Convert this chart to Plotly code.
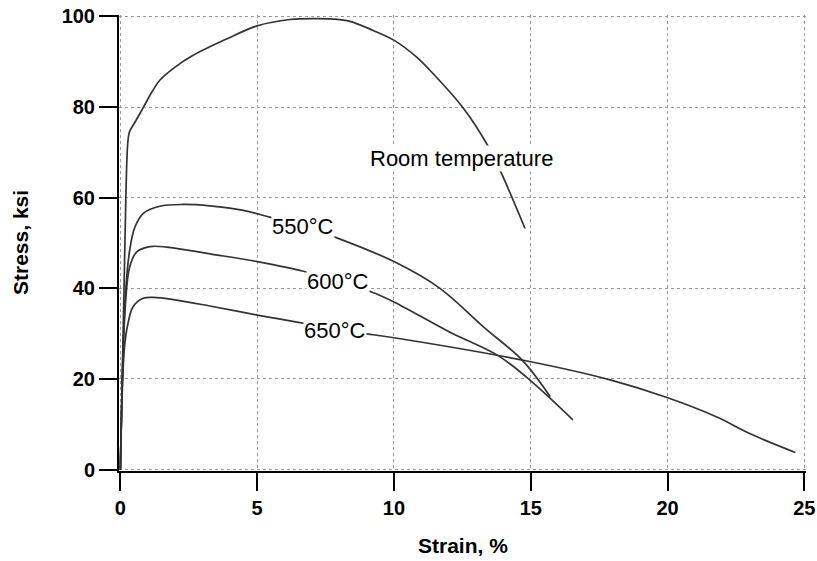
import plotly.graph_objects as go

# Room temperature
rt_x = [0, 0.2, 0.27, 0.33, 0.5, 0.83, 1.15, 1.44, 2.0, 2.66, 3.88, 5.0, 6.2, 7.2, 7.78, 8.39, 9.24, 10.01, 10.83, 11.44, 12.53, 13.39, 13.88, 14.79]
rt_y = [0, 60, 72, 74.5, 76.3, 79.8, 83.3, 85.9, 88.8, 91.4, 95.0, 97.9, 99.3, 99.5, 99.4, 98.9, 96.9, 94.7, 91.0, 87.3, 79.8, 71.9, 66.0, 53.2]

# 550 C
c550_x = [0, 0.18, 0.34, 0.53, 0.83, 1.44, 2.29, 3.27, 4.49, 5.46, 6.68, 7.84, 10.0, 11.68, 13.27, 14.71, 15.71]
c550_y = [0, 38, 48.4, 53.5, 56.5, 58.1, 58.5, 58.2, 57.2, 55.7, 53.7, 51.3, 45.9, 40.0, 31.5, 24.0, 16.1]

# 600 C
c600_x = [0, 0.18, 0.34, 0.59, 1.08, 1.69, 3.27, 5.0, 6.81, 7.96, 9.18, 10.0, 12.05, 13.82, 15.0, 16.54]
c600_y = [0, 36, 44.7, 48.0, 49.2, 49.1, 47.6, 45.9, 43.6, 41.4, 39.2, 37.0, 30.3, 25.1, 19.6, 11.0]

# 650 C
c650_x = [0, 0.15, 0.28, 0.46, 0.83, 1.2, 2.05, 3.27, 5.01, 6.68, 7.85, 9.06, 10.0, 15.0, 17.9, 19.98, 21.8, 23.02, 24.67]
c650_y = [0, 27, 32.3, 35.9, 37.8, 38.0, 37.4, 36.1, 34.1, 32.3, 30.8, 29.9, 29.1, 23.8, 19.8, 15.9, 11.6, 7.9, 3.8]

labels = ["Room temperature", "550°C", "600°C", "650°C"]
label_x = [12.45, 6.68, 7.96, 7.85]
label_y = [68.7, 53.7, 41.4, 30.8]

x_ticks = [0, 5, 10, 15, 20, 25]
y_ticks = [0, 20, 40, 60, 80, 100]

line_color = "#333333"
fig = go.Figure()
for xs, ys in [(rt_x, rt_y), (c550_x, c550_y), (c600_x, c600_y), (c650_x, c650_y)]:
    fig.add_trace(go.Scatter(x=xs, y=ys, mode="lines",
                             line=dict(color=line_color, width=1.7, shape="spline", smoothing=1.0),
                             showlegend=False, hoverinfo="skip"))

font_family = "Liberation Sans, Arial, Helvetica, sans-serif"
for t, lx, ly in zip(labels, label_x, label_y):
    fig.add_annotation(x=lx, y=ly, text=t, showarrow=False, xref="x", yref="y",
                       font=dict(family=font_family, size=22, color="black"),
                       bgcolor="white", borderpad=0)

fig.add_annotation(x=0.5, y=0, xref="paper", yref="paper", text="Strain, %", showarrow=False,
                   yanchor="middle", yshift=-74,
                   font=dict(family=font_family, size=21, color="black", weight="bold"))
fig.add_annotation(x=0, y=0.5, xref="paper", yref="paper", text="Stress, ksi", showarrow=False,
                   xanchor="center", xshift=-99, textangle=-90,
                   font=dict(family=font_family, size=21, color="black", weight="bold"))

axis_common = dict(showline=True, linewidth=2, linecolor="black", ticks="outside",
                   ticklen=18, tickwidth=2, tickcolor="black", showgrid=True,
                   gridcolor="#999999", griddash="dot", gridwidth=1, zeroline=False,
                   automargin=False, ticklabeloverflow="allow",
                   tickfont=dict(family=font_family, size=20, color="black", weight="bold"))

fig.update_xaxes(range=[-0.05, 25.06], tickvals=x_ticks, **axis_common)
fig.update_yaxes(range=[-0.3, 100.3], tickvals=y_ticks, **axis_common)

fig.update_layout(width=817, height=561, margin=dict(l=119, r=11, t=15, b=90),
                  plot_bgcolor="white", paper_bgcolor="white",
                  font=dict(family=font_family))

# remove the page's default body margin so the figure fills the window exactly
fig.write_html("out.html", config={"displayModeBar": False, "staticPlot": True},
               post_script="document.body.style.margin='0';document.body.style.overflow='hidden';")
